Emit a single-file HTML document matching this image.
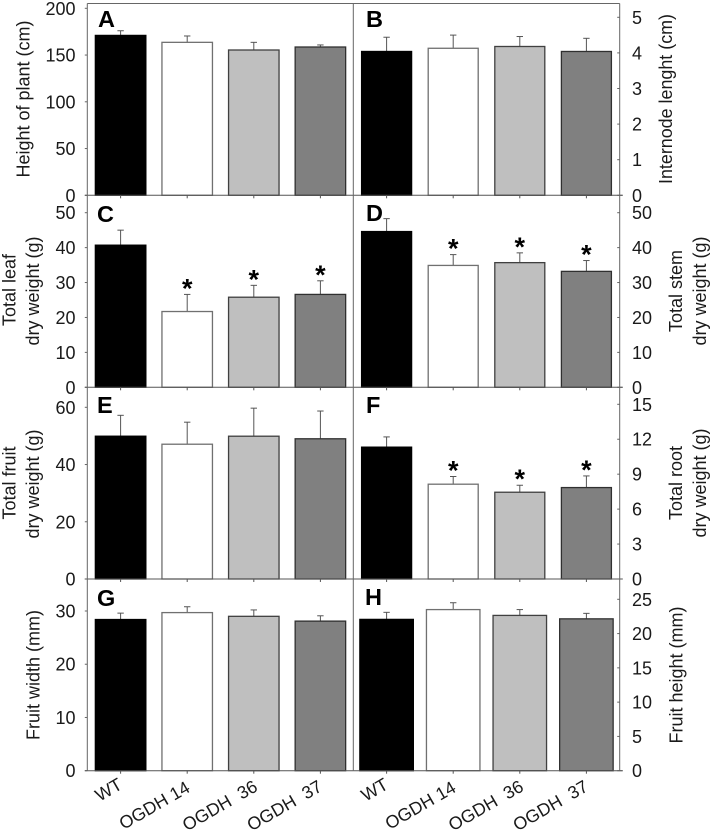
<!DOCTYPE html>
<html lang="en">
<head>
<meta charset="utf-8">
<title>Plant growth and biomass by genotype</title>
<style>
  html, body { margin: 0; padding: 0; background: #fff; }
  svg { display: block; }
  text { font-family: "Liberation Sans", Arial, sans-serif; fill: #1a1a1a; }
  .tick-label { font-size: 18px; }
  .axis-title { font-size: 18px; }
  .panel-letter { font-size: 23.5px; font-weight: bold; fill: #000; }
  .category-label { font-size: 17.8px; white-space: pre; }
  .star { font-size: 27px; font-weight: bold; fill: #000; }
</style>
</head>
<body>
<svg id="figure" xmlns="http://www.w3.org/2000/svg" width="711" height="831" viewBox="0 0 711 831">
  <rect x="0" y="0" width="711" height="831" fill="#ffffff"/>

  <g>
    <text class="axis-title" text-anchor="middle" transform="translate(29.5 99) rotate(-90)">Height of plant (cm)</text>
    <text class="axis-title" text-anchor="middle" textLength="170" lengthAdjust="spacingAndGlyphs" transform="translate(672 99) rotate(-90)">Internode lenght (cm)</text>
    <text class="axis-title" text-anchor="middle" transform="translate(15.3 290) rotate(-90)">Total leaf</text>
    <text class="axis-title" text-anchor="middle" transform="translate(39 291) rotate(-90)">dry weight (g)</text>
    <text class="axis-title" text-anchor="middle" transform="translate(682 291) rotate(-90)">Total stem</text>
    <text class="axis-title" text-anchor="middle" transform="translate(706 291) rotate(-90)">dry weight (g)</text>
    <text class="axis-title" text-anchor="middle" transform="translate(15.3 483) rotate(-90)">Total fruit</text>
    <text class="axis-title" text-anchor="middle" transform="translate(39 484) rotate(-90)">dry weight (g)</text>
    <text class="axis-title" text-anchor="middle" transform="translate(682 483) rotate(-90)">Total root</text>
    <text class="axis-title" text-anchor="middle" transform="translate(706 483) rotate(-90)">dry weight (g)</text>
    <text class="axis-title" text-anchor="middle" transform="translate(39.3 675) rotate(-90)">Fruit width (mm)</text>
    <text class="axis-title" text-anchor="middle" transform="translate(682.7 675) rotate(-90)">Fruit height (mm)</text>
  </g>

  <g id="marks"></g>
  <g id="frame"></g>
  <g id="labels"></g>

  <g>
    <text class="panel-letter" x="98" y="27">A</text>
    <text class="panel-letter" x="366" y="27">B</text>
    <text class="panel-letter" x="97" y="222">C</text>
    <text class="panel-letter" x="366" y="221">D</text>
    <text class="panel-letter" x="97" y="413">E</text>
    <text class="panel-letter" x="366" y="413">F</text>
    <text class="panel-letter" x="97" y="606">G</text>
    <text class="panel-letter" x="365" y="605">H</text>
  </g>
</svg>

<script>
// ----- Data -----
const categories = ["WT", "OGDH 14", "OGDH  36", "OGDH  37"];

const heightValues = [171, 163.6, 155.4, 158.6];
const heightErrorTops = [176, 170.4, 163.6, 160.8];
const heightTicks = [0, 50, 100, 150, 200];
const heightSig = [false, false, false, false];

const internodeValues = [4.04, 4.13, 4.18, 4.04];
const internodeErrorTops = [4.44, 4.5, 4.46, 4.41];
const internodeTicks = [0, 1, 2, 3, 4, 5];
const internodeSig = [false, false, false, false];

const leafValues = [40.7, 21.7, 25.8, 26.6];
const leafErrorTops = [45, 26.6, 29.2, 30.5];
const leafTicks = [0, 10, 20, 30, 40, 50];
const leafSig = [false, true, true, true];

const stemValues = [44.6, 34.9, 35.7, 33.2];
const stemErrorTops = [48.3, 38, 38.5, 36.3];
const stemTicks = [0, 10, 20, 30, 40, 50];
const stemSig = [false, true, true, true];

const fruitValues = [49.9, 47.1, 49.9, 49];
const fruitErrorTops = [57.2, 54.8, 59.7, 58.7];
const fruitTicks = [0, 20, 40, 60];
const fruitSig = [false, false, false, false];

const rootValues = [11.32, 8.14, 7.45, 7.85];
const rootErrorTops = [12.2, 8.8, 8.05, 8.85];
const rootTicks = [0, 3, 6, 9, 12, 15];
const rootSig = [false, true, true, true];

const widthValues = [28.4, 29.7, 29, 28.1];
const widthErrorTops = [29.6, 30.8, 30.2, 29.1];
const widthTicks = [0, 10, 20, 30];
const widthSig = [false, false, false, false];

const fruitHeightValues = [22.07, 23.5, 22.65, 22.15];
const fruitHeightErrorTops = [23.1, 24.5, 23.5, 22.95];
const fruitHeightTicks = [0, 5, 10, 15, 20, 25];
const fruitHeightSig = [false, false, false, false];

// ----- Layout -----
const SVG_NS = "http://www.w3.org/2000/svg";
const marks = document.getElementById("marks");
const frame = document.getElementById("frame");
const labels = document.getElementById("labels");

const LEFT_AXIS = 87.3, MID_AXIS = 353.3, RIGHT_AXIS = 619.7, TOP = 3.5, BOTTOM = 770.7;
const barFills = ["#000000", "#ffffff", "#bfbfbf", "#808080"];
const barStrokes = ["#000000", "#707070", "#404040", "#303030"];

function make(tag, attrs, parent) {
  const el = document.createElementNS(SVG_NS, tag);
  for (const k in attrs) el.setAttribute(k, attrs[k]);
  parent.appendChild(el);
  return el;
}

function yScale(v, zeroY, topY, maxV) {
  return zeroY - v * (zeroY - topY) / maxV;
}

function xCenter(i, side) {
  return (side === "left" ? 120.6 : 386.6) + i * 66.6;
}

function drawPanel(id, side, zeroY, topY, values, errs, ticks, sig, barW) {
  const maxV = ticks[ticks.length - 1];
  const y = v => yScale(v, zeroY, topY, maxV);

  values.forEach((v, i) => {
    const cx = xCenter(i, side);

    const stem = make("line", { x1: cx, x2: cx, y1: y(v), y2: y(errs[i]), stroke: "#555", "stroke-width": 1 }, marks);
    
    

    const cap = make("line", { x1: cx - 3.2, x2: cx + 3.2, y1: y(errs[i]), y2: y(errs[i]), stroke: "#555", "stroke-width": 1 }, marks);
    
    

    const bar = make("rect", {
      x: cx - barW / 2, y: y(v), width: barW, height: zeroY - y(v),
      fill: barFills[i], stroke: barStrokes[i], "stroke-width": 1.3
    }, marks);
    
    

    if (sig[i]) {
      const star = make("text", { class: "star", x: cx, y: y(errs[i]) - 10 + 13, "text-anchor": "middle" }, labels);
      star.textContent = "*";
      
      
    }

    const xt = make("line", { x1: cx, x2: cx, y1: zeroY, y2: zeroY + 3, stroke: "#555", "stroke-width": 1 }, frame);
    
    
  });

  ticks.forEach(t => {
    const ty = y(t);
    const x1 = side === "left" ? LEFT_AXIS - 2.5 : RIGHT_AXIS - 2.5;
    const x2 = side === "left" ? LEFT_AXIS : RIGHT_AXIS + (t === 0 ? 3 : 0);
    const tk = make("line", { x1: x1, x2: x2, y1: ty, y2: ty, stroke: "#666", "stroke-width": 1 }, frame);
    
    

    const lbl = make("text", {
      class: "tick-label",
      x: side === "left" ? 75.5 : 632,
      y: ty + 6.5,
      "text-anchor": side === "left" ? "end" : "start"
    }, labels);
    lbl.textContent = String(t);
    
    
  });

  const zero = make("line", { x1: side === "left" ? LEFT_AXIS - 2.5 : MID_AXIS, x2: side === "left" ? MID_AXIS : RIGHT_AXIS + 3, y1: zeroY, y2: zeroY, stroke: "#555", "stroke-width": 1 }, frame);
  
  
}

drawPanel("a", "left", 195.3, 8.3, heightValues, heightErrorTops, heightTicks, heightSig, 50.5);
drawPanel("b", "right", 195.3, 17.3, internodeValues, internodeErrorTops, internodeTicks, internodeSig, 50);
drawPanel("c", "left", 387.3, 212.7, leafValues, leafErrorTops, leafTicks, leafSig, 50.5);
drawPanel("d", "right", 387.3, 212.7, stemValues, stemErrorTops, stemTicks, stemSig, 50);
drawPanel("e", "left", 579, 407.3, fruitValues, fruitErrorTops, fruitTicks, fruitSig, 50.5);
drawPanel("f", "right", 579, 404.3, rootValues, rootErrorTops, rootTicks, rootSig, 50);
drawPanel("g", "left", 770.7, 611, widthValues, widthErrorTops, widthTicks, widthSig, 50.5);
drawPanel("h", "right", 770.7, 599.3, fruitHeightValues, fruitHeightErrorTops, fruitHeightTicks, fruitHeightSig, 53.5);

[LEFT_AXIS, MID_AXIS, RIGHT_AXIS].forEach(x => {
  const v = make("line", { x1: x, x2: x, y1: TOP, y2: BOTTOM, stroke: "#666", "stroke-width": 1 }, frame);
  
  
});
const topLine = make("line", { x1: LEFT_AXIS, x2: RIGHT_AXIS, y1: TOP, y2: TOP, stroke: "#666", "stroke-width": 1 }, frame);



const labelOffsets = [3, 4, 5, 3];
const labelDrops = [788, 791, 790, 790];
["left", "right"].forEach(side => {
  categories.forEach((c, i) => {
    const x = xCenter(i, side) + labelOffsets[i];
    const y = labelDrops[i];
    const t = make("text", {
      class: "category-label",
      "text-anchor": "end",
      transform: "translate(" + x + " " + y + ") rotate(-30)"
    }, labels);
    t.textContent = c;
    
    
  });
});
</script>
</body>
</html>
